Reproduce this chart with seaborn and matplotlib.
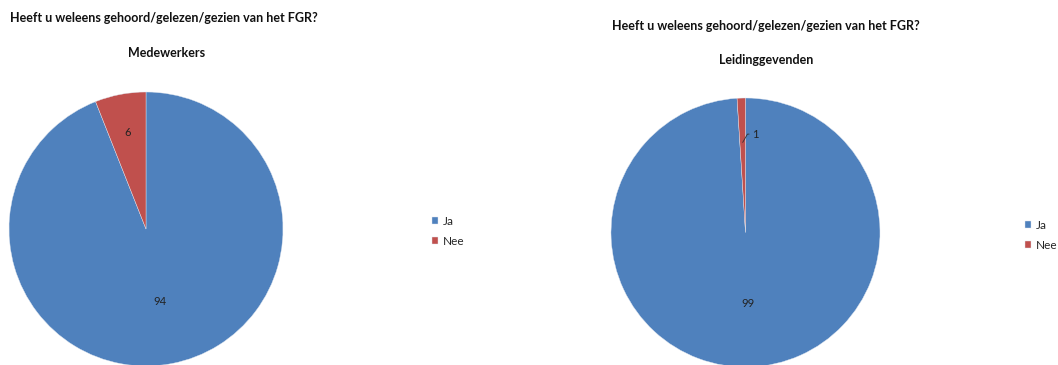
import matplotlib
matplotlib.use("Agg")
import matplotlib.pyplot as plt
import numpy as np
import seaborn as sns

# Survey answers (percent)
categories = ["Ja", "Nee"]
medewerkers = [94, 6]
leidinggevenden = [99, 1]
question = "Heeft u weleens gehoord/gelezen/gezien van het FGR?"
group_titles = ["Medewerkers", "Leidinggevenden"]
colors = ["#4F81BD", "#C0504D"]

sns.set_theme(style="white")
plt.rcParams["font.family"] = ["Lato", "DejaVu Sans"]

W, H = 1058, 365
fig = plt.figure(figsize=(W / 100, H / 100), dpi=100)


def px_axes(cx, cy, r):
    """Square axes whose box spans a circle of radius r (pixels) at (cx, cy) from top-left."""
    return fig.add_axes([(cx - r) / W, (H - cy - r) / H, 2 * r / W, 2 * r / H])


def draw_pie(ax, values, big_dist, small_dist, leader=False):
    wedges, _ = ax.pie(values, colors=colors, startangle=90, counterclock=False,
                       wedgeprops=dict(linewidth=0.3, edgecolor="#dfe6f0"))
    ax.set_xlim(-1, 1)
    ax.set_ylim(-1, 1)
    ax.set_aspect("equal")
    ax.axis("off")
    for w, v in zip(wedges, values):
        mid = np.deg2rad((w.theta1 + w.theta2) / 2)
        big = v >= 50
        d = big_dist if big else small_dist
        x, y = d * np.cos(mid), d * np.sin(mid)
        if leader and not big:
            ax.annotate(str(v), xy=(x, y), xytext=(7, 6), textcoords="offset points",
                        fontsize=8, color="#222222", ha="left", va="center",
                        arrowprops=dict(arrowstyle="-", color="#333333", lw=0.6,
                                        connectionstyle="angle,angleA=0,angleB=60,rad=0",
                                        shrinkA=0, shrinkB=0))
        else:
            ax.text(x, y, str(v), fontsize=8, color="#222222", ha="center", va="center")
    return wedges


legend_kw = dict(loc="upper left", frameon=False, fontsize=8.5, handlelength=0.55,
                 handleheight=0.55, handletextpad=0.35, labelspacing=0.75,
                 borderaxespad=0, borderpad=0)

# Left chart: employees
ax1 = px_axes(146, 229, 137)
w1 = draw_pie(ax1, medewerkers, 0.54, 0.72)
fig.text(10 / W, 1 - 18 / H, question, fontsize=9, fontweight="bold", ha="left", va="center", color="#111111")
fig.text(167 / W, 1 - 53 / H, group_titles[0], fontsize=9, fontweight="bold", ha="center", va="center", color="#111111")
fig.legend(w1, categories, bbox_to_anchor=(432 / W, 1 - 216 / H), **legend_kw)

# Right chart: managers
ax2 = px_axes(745.5, 232.5, 134.5)
w2 = draw_pie(ax2, leidinggevenden, 0.53, 0.67, leader=True)
fig.text(612 / W, 1 - 26 / H, question, fontsize=9, fontweight="bold", ha="left", va="center", color="#111111")
fig.text(766 / W, 1 - 60 / H, group_titles[1], fontsize=9, fontweight="bold", ha="center", va="center", color="#111111")
fig.legend(w2, categories, bbox_to_anchor=(1025 / W, 1 - 220 / H), **legend_kw)

fig.savefig("out.png", dpi=100)
